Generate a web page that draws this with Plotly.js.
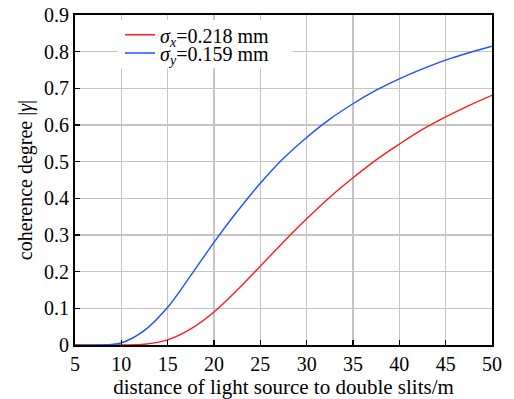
<!DOCTYPE html>
<html>
<head>
<meta charset="utf-8">
<script src="https://cdn.plot.ly/plotly-3.0.1.min.js"></script>
<style>html,body{margin:0;padding:0;background:#fff;}#chart{width:514px;height:399px;}</style>
</head>
<body>
<div id="chart"></div>
<script>
const distance = [5, 7.5, 10, 12.5, 15, 17.5, 20, 22.5, 25, 27.5, 30, 32.5, 35, 37.5, 40, 42.5, 45, 47.5, 50];
const gammaX = [0.000, 0.000, 0.000, 0.002, 0.014, 0.044, 0.090, 0.150, 0.215, 0.281, 0.344, 0.403, 0.456, 0.505, 0.548, 0.588, 0.622, 0.653, 0.681];
const gammaY = [0.000, 0.000, 0.006, 0.040, 0.103, 0.190, 0.280, 0.364, 0.441, 0.509, 0.566, 0.616, 0.658, 0.695, 0.726, 0.753, 0.777, 0.797, 0.815];
const seriesNames = ['<i>σ</i><sub><i>x</i></sub>=0.218 mm', '<i>σ</i><sub><i>y</i></sub>=0.159 mm'];
const xTicks = [5, 10, 15, 20, 25, 30, 35, 40, 45, 50];
const yTicks = [0, 0.1, 0.2, 0.3, 0.4, 0.5, 0.6, 0.7, 0.8, 0.9];
const yTickText = ['0', '0.1', '0.2', '0.3', '0.4', '0.5', '0.6', '0.7', '0.8', '0.9'];

const font = 'Liberation Serif';
const tf = {family: font, size: 20, color: '#000000'};
const traces = [
  {x: distance, y: gammaX, name: seriesNames[0], legend: 'legend', mode: 'lines', line: {color: '#ff1a1a', width: 1.4, shape: 'spline', smoothing: 1}},
  {x: distance, y: gammaY, name: seriesNames[1], legend: 'legend2', mode: 'lines', line: {color: '#1f4fff', width: 1.4, shape: 'spline', smoothing: 1}}
];
const legendCommon = {xanchor: 'left', yanchor: 'middle', bgcolor: 'rgba(0,0,0,0)', borderwidth: 0,
  font: {family: font, size: 20, color: '#000000'}, itemwidth: 30};
const layout = {
  width: 514, height: 399,
  margin: {l: 75, r: 22, t: 15, b: 54},
  paper_bgcolor: '#fff', plot_bgcolor: '#fff',
  font: {family: font, size: 20, color: '#000000'},
  showlegend: true,
  legend: Object.assign({}, legendCommon, {x: 0.108, y: 0.94}),
  legend2: Object.assign({}, legendCommon, {x: 0.108, y: 0.885}),
  shapes: [{type: 'rect', xref: 'paper', yref: 'paper', x0: 0.103, x1: 0.521, y0: 0.839, y1: 0.985,
            fillcolor: '#ffffff', line: {width: 0}, layer: 'above'}],
  xaxis: {range: [5, 50], tickvals: xTicks, ticktext: xTicks.map(String), tickfont: tf,
    showline: true, linecolor: '#000', linewidth: 2, mirror: true,
    ticks: 'inside', ticklen: 5, tickwidth: 1.5, tickcolor: '#000',
    showgrid: true, gridcolor: '#c4c4c4', gridwidth: 1.5, zeroline: false,
    title: {text: 'distance of light source to double slits/m', font: {family: font, size: 21, color: '#000000'}, standoff: 1}},
  yaxis: {range: [0, 0.9], tickvals: yTicks, ticktext: yTickText, tickfont: tf,
    showline: true, linecolor: '#000', linewidth: 2, mirror: true,
    ticks: 'inside', ticklen: 5, tickwidth: 1.5, tickcolor: '#000',
    showgrid: true, gridcolor: '#c4c4c4', gridwidth: 1.5, zeroline: false,
    title: {text: 'coherence degree |<i>γ</i>|', font: tf, standoff: 6}}
};
Plotly.newPlot('chart', traces, layout, {staticPlot: true, displayModeBar: false});
</script>
</body>
</html>
